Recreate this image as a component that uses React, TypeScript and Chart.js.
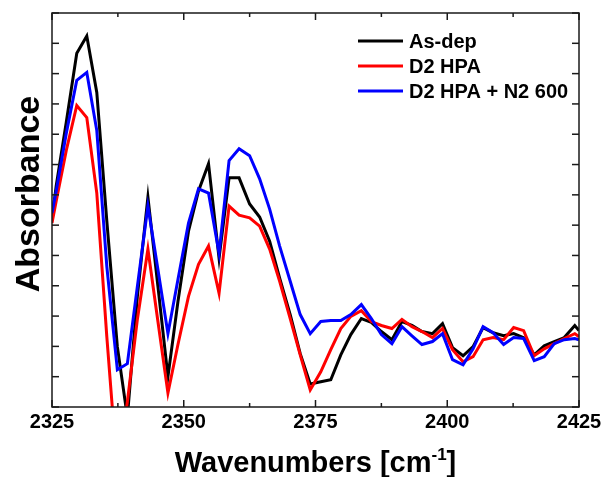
import React, { useEffect, useRef } from "react";
import { Chart, registerables } from "chart.js";

Chart.register(...registerables);

// Wavenumbers (cm^-1) of the sampled points
const wavenumbers = [
  2325.0, 2325.8, 2327.7, 2329.7, 2331.6, 2333.5, 2335.4, 2337.4, 2339.3, 2341.2,
  2343.2, 2345.1, 2347.0, 2348.9, 2350.9, 2352.8, 2354.7, 2356.7, 2358.6, 2360.5,
  2362.5, 2364.4, 2366.3, 2368.2, 2370.2, 2372.1, 2374.0, 2376.0, 2377.9, 2379.8,
  2381.7, 2383.7, 2385.6, 2387.5, 2389.5, 2391.4, 2393.3, 2395.2, 2397.2, 2399.1,
  2401.0, 2403.0, 2404.9, 2406.8, 2408.7, 2410.7, 2412.6, 2414.5, 2416.5, 2418.4,
  2420.3, 2422.2, 2424.2, 2425.0,
];

// Absorbance (arbitrary units)
const asDep = [
  6.20, 7.30, 9.39, 11.67, 12.24, 10.38, 6.14, 1.99, -0.33, 3.65,
  6.93, 3.98, 1.00, 3.48, 5.80, 7.13, 8.03, 4.91, 7.56, 7.56,
  6.70, 6.27, 5.47, 4.25, 3.05, 1.76, 0.76, 0.83, 0.90, 1.72,
  2.39, 2.92, 2.79, 2.49, 2.22, 2.82, 2.69, 2.49, 2.42, 2.75,
  1.96, 1.69, 1.99, 2.62, 2.45, 2.35, 2.42, 2.29, 1.72, 2.02,
  2.16, 2.29, 2.69, 2.52,
];

const d2Hpa = [
  6.07, 6.80, 8.46, 9.95, 9.55, 7.06, 2.32, -2.16, 0.17, 2.89,
  5.21, 2.82, 0.46, 2.06, 3.65, 4.71, 5.31, 3.75, 6.63, 6.33,
  6.24, 5.97, 5.21, 4.15, 2.92, 1.72, 0.56, 1.16, 1.89, 2.59,
  2.99, 3.18, 2.82, 2.69, 2.59, 2.89, 2.65, 2.49, 2.29, 2.59,
  1.89, 1.49, 1.66, 2.22, 2.29, 2.22, 2.62, 2.52, 1.69, 1.92,
  2.09, 2.26, 2.42, 2.32,
];

const d2HpaN2 = [
  6.40, 7.13, 9.02, 10.78, 11.04, 9.12, 4.64, 1.23, 1.43, 3.98,
  6.63, 4.54, 2.42, 4.21, 6.07, 7.20, 7.06, 5.07, 8.13, 8.52,
  8.29, 7.53, 6.53, 5.31, 4.15, 3.05, 2.42, 2.82, 2.85, 2.85,
  3.05, 3.38, 2.92, 2.39, 2.09, 2.65, 2.35, 2.06, 2.16, 2.42,
  1.56, 1.39, 1.92, 2.65, 2.45, 2.06, 2.29, 2.26, 1.53, 1.66,
  2.09, 2.22, 2.26, 2.22,
];

const seriesLabels = ["As-dep", "D2 HPA", "D2 HPA + N2 600"];
const seriesColors = ["#000000", "#ff0000", "#0000ff"];
const seriesValues = [asDep, d2Hpa, d2HpaN2];

const xMin = 2325;
const xMax = 2425;
const xStep = 12.5;
const xLabelStep = 25;
const yMin = 0;
const yMax = 13;
const yStep = 1;

const xTitleMain = "Wavenumbers [cm";
const xTitleSup = "-1";
const xTitleEnd = "]";
const yTitle = "Absorbance";

const FONT = '"Liberation Sans", Arial, Helvetica, sans-serif';

const framePlugin = {
  id: "frameAndTitles",
  afterDatasetsDraw(chart: any) {
    const { ctx, chartArea: a, scales } = chart;
    const xs = scales.x;
    const ys = scales.y;
    ctx.save();
    ctx.strokeStyle = "#1a1a1a";
    ctx.lineWidth = 1.5;
    ctx.strokeRect(a.left, a.top, a.right - a.left, a.bottom - a.top);
    const seg = (x1: number, y1: number, x2: number, y2: number) => {
      ctx.beginPath();
      ctx.moveTo(x1, y1);
      ctx.lineTo(x2, y2);
      ctx.stroke();
    };
    xs.ticks.forEach((t: any) => {
      const px = xs.getPixelForValue(t.value);
      const major = Math.abs(t.value % xLabelStep) < 1e-6;
      const len = major ? 7 : 4;
      seg(px, a.bottom, px, a.bottom - len);
      seg(px, a.top, px, a.top + len);
    });
    ys.ticks.forEach((t: any) => {
      const py = ys.getPixelForValue(t.value);
      seg(a.left, py, a.left + 7, py);
      seg(a.right, py, a.right - 7, py);
    });

    // x title with superscript
    ctx.fillStyle = "#000";
    ctx.textBaseline = "alphabetic";
    ctx.textAlign = "left";
    const mainFont = `bold 29px ${FONT}`;
    const supFont = `bold 17px ${FONT}`;
    ctx.font = mainFont;
    const w1 = ctx.measureText(xTitleMain).width;
    const w3 = ctx.measureText(xTitleEnd).width;
    ctx.font = supFont;
    const w2 = ctx.measureText(xTitleSup).width;
    const total = w1 + w2 + w3;
    const cx = (a.left + a.right) / 2;
    const base = 472;
    let sx = cx - total / 2;
    ctx.font = mainFont;
    ctx.fillText(xTitleMain, sx, base);
    sx += w1;
    ctx.font = supFont;
    ctx.fillText(xTitleSup, sx, base - 12);
    sx += w2;
    ctx.font = mainFont;
    ctx.fillText(xTitleEnd, sx, base);

    // y title
    ctx.save();
    ctx.translate(30, 194);
    ctx.rotate(-Math.PI / 2);
    ctx.font = `bold 34px ${FONT}`;
    ctx.textAlign = "center";
    ctx.textBaseline = "middle";
    ctx.fillText(yTitle, 0, 0);
    ctx.restore();

    // legend
    const lx1 = 358;
    const lx2 = 403;
    const tx = 409;
    const rowY = [41, 66, 91];
    ctx.font = `bold 20px ${FONT}`;
    ctx.textAlign = "left";
    ctx.textBaseline = "middle";
    chart.data.datasets.forEach((ds: any, i: number) => {
      const yy = rowY[i];
      ctx.strokeStyle = ds.borderColor;
      ctx.lineWidth = 3;
      seg(lx1, yy, lx2, yy);
      ctx.fillStyle = "#000";
      ctx.fillText(ds.label, tx, yy + 1);
    });
    ctx.restore();
  },
};

export default function App() {
  const ref = useRef<HTMLCanvasElement | null>(null);
  useEffect(() => {
    if (!ref.current) return;
    const datasets = seriesValues.map((vals, i) => ({
      label: seriesLabels[i],
      data: wavenumbers.map((w, j) => ({ x: w, y: vals[j] })),
      borderColor: seriesColors[i],
      backgroundColor: seriesColors[i],
      borderWidth: 3,
      pointRadius: 0,
      tension: 0,
      fill: false,
      order: 2 - i,
      borderJoinStyle: "miter" as const,
    }));
    const chart = new Chart(ref.current, {
      type: "line",
      data: { datasets },
      plugins: [framePlugin],
      options: {
        animation: false,
        responsive: false,
        maintainAspectRatio: false,
        layout: { padding: { left: 52, top: 13, right: 22, bottom: 40 } },
        plugins: { legend: { display: false }, tooltip: { enabled: false } },
        scales: {
          x: {
            type: "linear",
            min: xMin,
            max: xMax,
            grid: { display: false, drawTicks: false },
            border: { display: false },
            afterFit: (s: any) => {
              s.paddingLeft = 0;
              s.paddingRight = 0;
            },
            ticks: {
              stepSize: xStep,
              autoSkip: false,
              maxRotation: 0,
              padding: 3,
              color: "#000",
              font: { family: FONT, size: 20, weight: "bold" },
              callback: (v: any) =>
                Math.abs(Number(v) % xLabelStep) < 1e-6 ? String(v) : "",
            },
          },
          y: {
            type: "linear",
            min: yMin,
            max: yMax,
            grid: { display: false, drawTicks: false },
            border: { display: false },
            ticks: { stepSize: yStep, display: false },
          },
        },
      },
    });
    return () => chart.destroy();
  }, []);
  return (
    <div style={{ position: "absolute", left: 0, top: 0, width: 601, height: 477, background: "#fff" }}>
      <canvas ref={ref} width={601} height={477} style={{ width: 601, height: 477 }} />
    </div>
  );
}
